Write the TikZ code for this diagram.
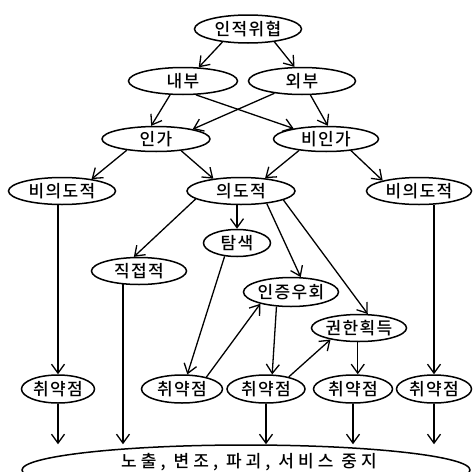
\documentclass[tikz,border=0pt]{standalone}
\usepackage{fontspec}
\newfontfamily\kr{Noto Sans CJK KR Medium}[LetterSpace=8]
\newfontfamily\krwide{Noto Sans CJK KR Medium}[LetterSpace=24]
\usetikzlibrary{shapes.geometric,arrows.meta}
\tikzset{
  oval/.style={draw, ellipse, line width=1.5pt, inner sep=0pt,
    font=\kr\fontsize{17}{19}\selectfont, minimum height=27pt},
  arr/.style={line width=1.3pt, -{Straight Barb[length=9pt,width=13pt,line width=1.3pt]}},
}
\begin{document}
\begin{tikzpicture}[x=1pt,y=-1pt]
\clip (0,0) rectangle (473,471);
\fill[white] (0,0) rectangle (473,471);

% threat tree
\node[oval, minimum width=107pt, minimum height=28pt] (threat) at (248,29) {인적위협};
\node[oval, minimum width=109pt] (inner) at (183,81) {내부};
\node[oval, minimum width=107pt] (outer) at (302,81) {외부};
\node[oval, minimum width=108pt, minimum height=25pt] (auth) at (156,139) {인가};
\node[oval, minimum width=105pt, minimum height=25pt] (unauth) at (326,139) {비인가};
\node[oval, minimum width=107pt] (accL) at (62,191) {비의도적};
\node[oval, minimum width=108pt] (intent) at (241,191) {의도적};
\node[oval, minimum width=105pt] (accR) at (419,191) {비의도적};
\node[oval, minimum width=67pt] (scan) at (237,243) {탐색};
\node[oval, minimum width=95pt] (direct) at (139,271) {직접적};
\node[oval, minimum width=95pt, minimum height=29pt] (bypass) at (291,292) {인증우회};
\node[oval, minimum width=95pt] (priv) at (359,328) {권한획득};

% vulnerabilities
\node[oval, minimum width=73pt, minimum height=28pt] (v1) at (58,389) {취약점};
\node[oval, minimum width=81pt, minimum height=28pt] (v2) at (182,389) {취약점};
\node[oval, minimum width=78pt, minimum height=28pt] (v3) at (266,389) {취약점};
\node[oval, minimum width=79pt, minimum height=28pt] (v4) at (353,389) {취약점};
\node[oval, minimum width=75pt, minimum height=28pt] (v5) at (434,389) {취약점};

% outcome
\node[oval, minimum width=448pt, minimum height=50pt] (result) at (246,470) {};
\node[font=\krwide\fontsize{17}{19}\selectfont, inner sep=0pt] (resulttext) at (249,462) {노출, 변조, 파괴, 서비스 중지};

% connectors
\draw[arr] (threat.207) -- (inner.41);
\draw[arr] (threat.334) -- (outer.118);
\draw[arr] (inner.227) -- (auth.110);
\draw[arr] (inner.313) -- (unauth.162);
\draw[arr] (outer.204) -- (auth.15);
\draw[arr] (outer.301) -- (unauth.82);
\draw[arr] (auth.201) -- (accL.22);
\draw[arr] (auth.335) -- (intent.156);
\draw[arr] (unauth.203) -- (intent.28);
\draw[arr] (unauth.335) -- (accR.164);
\draw[arr] (scan.north |- intent.south) -- (scan.north);
\draw[arr] (intent.190) -- (direct.110);
\draw[arr] (intent.334) -- (bypass.57);
\draw[arr] (intent.348) -- (priv.58);
\draw[arr] (scan.227) -- (v2.70);
\draw[arr] (v2.26) -- (bypass.201);
\draw[arr] (bypass.225) -- (v3.67);
\draw[arr] (v3.28) -- (priv.202);
\draw[arr] (priv.265) -- (priv.265 |- v4.north);
\draw[arr] (v1.north |- accL.south) -- (v1.north);
\draw[arr] (v5.north |- accR.south) -- (v5.north);

\draw[arr] (direct.220) -- (direct.220 |- result.north);
\draw[arr] (v1.south) -- (v1.south |- result.north);
\draw[arr] (v3.south) -- (v3.south |- result.north);
\draw[arr] (v4.south) -- (v4.south |- result.north);
\draw[arr] (v5.south) -- (v5.south |- result.north);
\end{tikzpicture}
\end{document}
